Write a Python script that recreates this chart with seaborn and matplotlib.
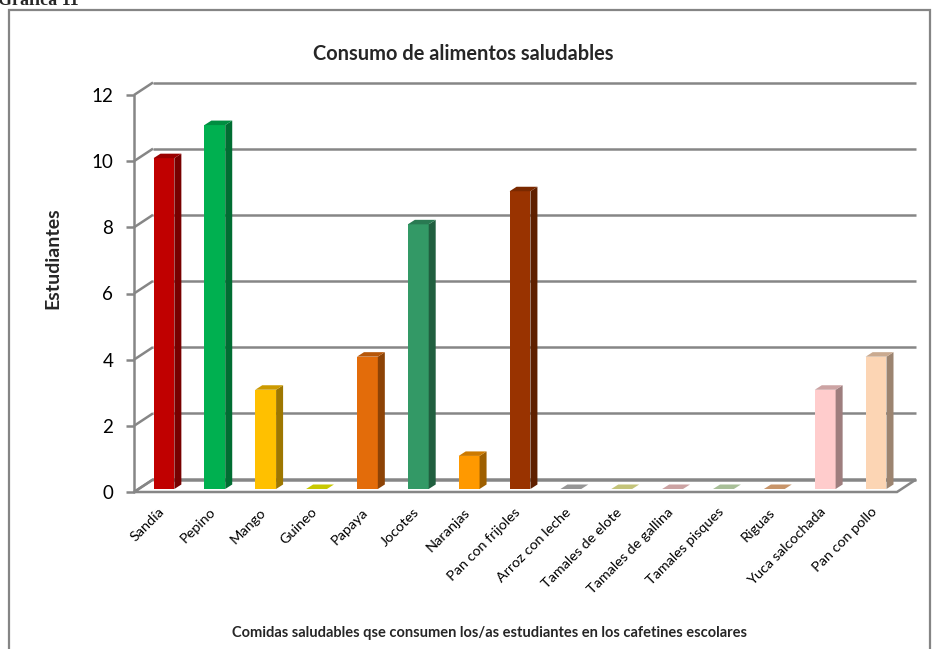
import numpy as np
import pandas as pd
import seaborn as sns
import matplotlib
matplotlib.use("Agg")
import matplotlib.pyplot as plt
from matplotlib.patches import Polygon, Rectangle
from matplotlib.transforms import ScaledTranslation
from matplotlib.colors import to_rgb

# ---- data ----
categories = ["Sandía", "Pepino", "Mango", "Guineo", "Papaya", "Jocotes", "Naranjas",
              "Pan con frijoles", "Arroz con leche", "Tamales de elote",
              "Tamales de gallina", "Tamales pisques", "Riguas",
              "Yuca salcochada", "Pan con pollo"]
students = [10, 11, 3, 0, 4, 8, 1, 9, 0, 0, 0, 0, 0, 3, 4]
bar_colors = ["#C00000", "#00B050", "#FFC000", "#FAFA00", "#E36C0A", "#339966",
              "#FF9900", "#993300", "#BCBCBC", "#F5F599", "#FFCCCC", "#D2EFBE",
              "#FABA85", "#FFCCCC", "#FCD5B4"]
y_ticks = [0, 2, 4, 6, 8, 10, 12]

title = "Consumo de alimentos saludables"
y_title = "Estudiantes"
x_title = "Comidas saludables qse consumen los/as estudiantes en los cafetines escolares"
caption = "Gráfica 11"

# ---- figure ----
W, H = 932, 649
sns.set_theme(style="white")
plt.rcParams["font.family"] = ["Lato", "DejaVu Sans"]

fig = plt.figure(figsize=(W / 100, H / 100), dpi=100)
ax_left, ax_right = 134, 897
ax_floor, ax_top = 492, 95
ax = fig.add_axes([ax_left / W, (H - ax_floor) / H,
                   (ax_right - ax_left) / W, (ax_floor - ax_top) / H])
n = len(categories)
ax.set_xlim(-0.5, n - 0.5)
ax.set_ylim(0, 12)

px_x = (ax_right - ax_left) / n          # pixels per category
px_y = (ax_floor - ax_top) / 12.0        # pixels per unit

# depth of the 3-D box (back wall offset) in data units
DX, DY = 19 / px_x, 12.5 / px_y
# bar placement inside the depth and bar thickness
OX, OY = 4.5 / px_x, 3.0 / px_y
BDX, BDY = 7.0 / px_x, 4.5 / px_y

grid_c = "#868686"
lw = 1.8
x0, x1 = -0.5, n - 0.5

# floor
floor = Polygon([(x0, 0), (x1, 0), (x1 + DX, DY), (x0 + DX, DY)], closed=True,
                facecolor="white", edgecolor=grid_c, lw=lw, zorder=1,
                clip_on=False, joinstyle="miter")
ax.add_patch(floor)

# back-wall grid lines and left-wall diagonals
for v in y_ticks:
    ax.plot([x0 + DX, x1 + DX], [v + DY, v + DY], color=grid_c, lw=lw,
            zorder=1, clip_on=False, solid_capstyle="butt")
    ax.plot([x0, x0 + DX], [v, v + DY], color=grid_c, lw=lw,
            zorder=1, clip_on=False, solid_capstyle="butt")
# front vertical axis
ax.plot([x0, x0], [0, 12], color=grid_c, lw=lw, zorder=2, clip_on=False)

# bars: front faces from seaborn
df = pd.DataFrame({"comida": categories, "estudiantes": students})
sns.barplot(data=df, x="comida", y="estudiantes", hue="comida",
            palette=bar_colors, legend=False, width=0.41, saturation=1,
            ax=ax, zorder=3, linewidth=0)

bars = [b for b in ax.patches if b is not floor]
bars = sorted(bars, key=lambda p: p.get_x())


def shade(c, f):
    r, g, b = to_rgb(c)
    return (r * f, g * f, b * f)


for bar, col in zip(bars, bar_colors):
    bx0 = bar.get_x() + OX
    bw = bar.get_width()
    h = bar.get_height()
    bar.set_x(bx0)
    bar.set_y(OY)
    bar.set_facecolor(col)
    bx1 = bx0 + bw
    base, top = OY, OY + h
    side = Polygon([(bx1, base), (bx1 + BDX, base + BDY),
                    (bx1 + BDX, top + BDY), (bx1, top)], closed=True,
                   facecolor=shade(col, 0.62), edgecolor="none", zorder=3)
    cap = Polygon([(bx0, top), (bx1, top), (bx1 + BDX, top + BDY),
                   (bx0 + BDX, top + BDY)], closed=True,
                  facecolor=shade(col, 0.8), edgecolor="none", zorder=3)
    ax.add_patch(side)
    ax.add_patch(cap)

# axes styling
for s in ax.spines.values():
    s.set_visible(False)
ax.set_facecolor("none")
ax.set_yticks(y_ticks)
ax.set_yticklabels([str(t) for t in y_ticks], fontsize=13.5, color="black")
ax.tick_params(axis="y", left=True, length=6, width=lw, color=grid_c, pad=9)
ax.set_xticks(range(n))
ax.set_xticklabels(categories, rotation=45, ha="right", va="center",
                   rotation_mode="anchor", fontsize=10.4, color="black")
ax.tick_params(axis="x", bottom=False, length=0, pad=13)
for lab in ax.get_xticklabels():
    lab.set_transform(lab.get_transform() + ScaledTranslation(3 / 100, 0, fig.dpi_scale_trans))
ax.set_xlabel("")
ax.set_ylabel("")

# titles
fig.text(463 / W, 1 - 54 / H, title, ha="center", va="center",
         fontsize=14.4, fontweight="bold")
fig.text(53 / W, 1 - 258 / H, y_title, ha="center", va="center",
         rotation=90, fontsize=14, fontweight="bold")
fig.text(490 / W, 1 - 633 / H, x_title, ha="center", va="center",
         fontsize=10.5, fontweight="bold")
fig.text(-2 / W, 1 - 5 / H, caption, ha="left", va="baseline",
         fontsize=13, fontweight="bold", family=["Liberation Serif", "DejaVu Serif"])

# outer frame
fig.add_artist(Rectangle((9 / W, -0.1), (930 - 9) / W, 1 - 10 / H + 0.1,
                         transform=fig.transFigure, fill=False,
                         edgecolor="#858585", lw=1.6))

fig.savefig("out.png", dpi=100)
